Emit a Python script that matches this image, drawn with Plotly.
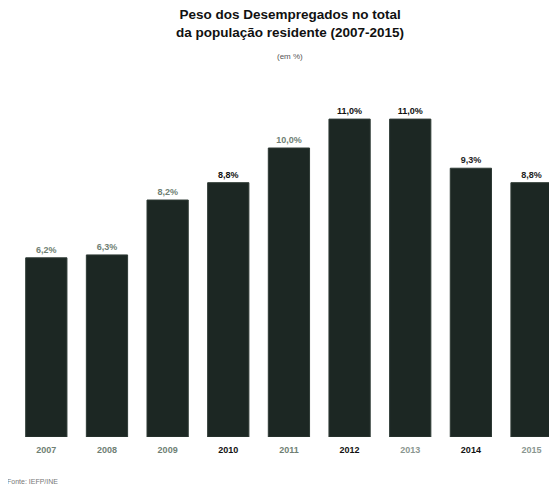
import plotly.graph_objects as go

years = ["2007", "2008", "2009", "2010", "2011", "2012", "2013", "2014", "2015"]
values = [6.2, 6.3, 8.2, 8.8, 10.0, 11.0, 11.0, 9.3, 8.8]
label_colors = ["#6f7f74", "#6f7f74", "#6f7f74", "#111111", "#6f7f74", "#111111", "#111111", "#222222", "#222222"]
tick_colors = ["#6f7f74", "#6f7f74", "#6f7f74", "#111111", "#6f7f74", "#111111", "#8a9690", "#111111", "#8a9690"]

texts = [f"<b>{v:.1f}%</b>".replace(".", ",") for v in values]
ticktext = [f"<span style='color:{c}'><b>{y}</b></span>" for y, c in zip(years, tick_colors)]

FONT = "Liberation Sans, Arial, sans-serif"
W, H = 557, 492
OFF = 8  # page body margin offset
L, T, B = 16 - OFF, 100 - OFF, H - (437 - OFF)
R = W - (557 - OFF)
plot_h = H - T - B
plot_w = W - L - R

def py(page_y):
    return (H - B - (page_y - OFF)) / plot_h

def px(page_x):
    return (page_x - OFF - L) / plot_w

fig = go.Figure()
fig.add_trace(go.Bar(
    x=list(range(len(years))), y=values,
    width=0.68,
    marker=dict(color="#1c2723", line=dict(color="#2e3a35", width=1)),
    text=texts, textposition="outside",
    textfont=dict(family=FONT, size=9, color=label_colors),
    cliponaxis=False,
    hoverinfo="skip",
))

fig.update_layout(
    width=W, height=H,
    margin=dict(l=L, r=R, t=T, b=B),
    paper_bgcolor="white", plot_bgcolor="white",
    showlegend=False,
    font=dict(family=FONT),
    xaxis=dict(
        range=[-0.5, 8.42], tickmode="array",
        tickvals=list(range(len(years))), ticktext=ticktext,
        showgrid=False, zeroline=False, showline=False, ticks="",
        ticklabelstandoff=6,
        tickfont=dict(family=FONT, size=9, color="#333"),
    ),
    yaxis=dict(range=[0, (437 - 100) / 28.9], visible=False, showgrid=False),
    annotations=[
        dict(text="<b>Peso dos Desempregados no total<br>da população residente (2007-2015)</b>",
             x=px(290), y=py(23), xref="paper", yref="paper", showarrow=False,
             yanchor="middle", xanchor="center",
             font=dict(family=FONT, size=13.5, color="#111")),
        dict(text="(em %)", xref="paper", yref="paper", x=px(290), y=py(57),
             yanchor="middle", xanchor="center", showarrow=False,
             font=dict(family=FONT, size=8, color="#555")),
        dict(text="Fonte: IEFP/INE", xref="paper", yref="paper", x=px(5), y=py(481),
             xanchor="left", yanchor="middle", showarrow=False,
             font=dict(family=FONT, size=7, color="#777")),
    ],
)

fig.write_html("out.html")
